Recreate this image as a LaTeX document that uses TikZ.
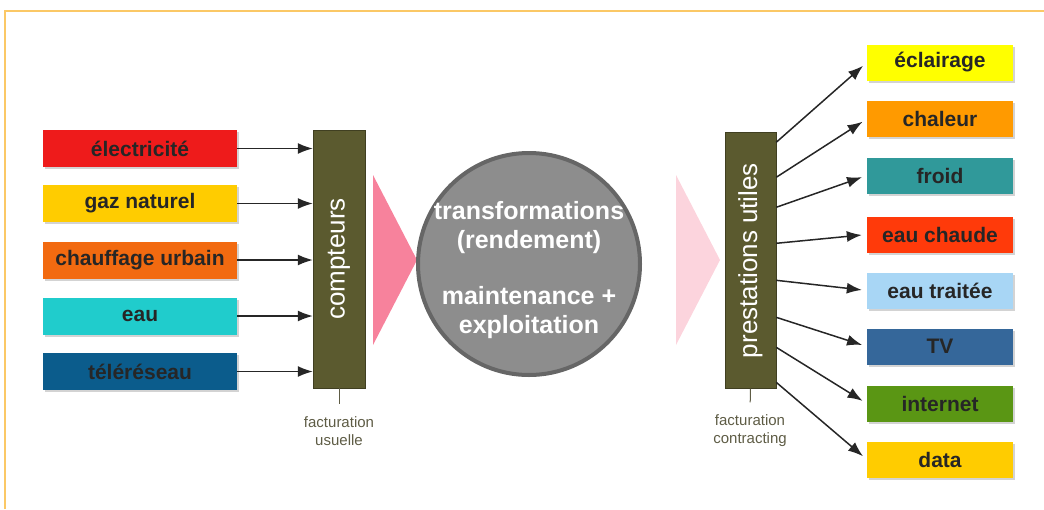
\documentclass[tikz,border=0pt]{standalone}
\usepackage{fontspec}
\setmainfont{Liberation Sans}
\usetikzlibrary{arrows.meta,shadows,calc}

\definecolor{framecol}{HTML}{FBC866}
\definecolor{olive}{HTML}{5B5A2F}
\definecolor{notecol}{HTML}{5E5C45}
\definecolor{pinkdark}{HTML}{F7829C}
\definecolor{pinklight}{HTML}{FCD4DD}
\definecolor{ballcol}{HTML}{8D8D8D}
\definecolor{ballrim}{HTML}{666666}
\definecolor{cElec}{HTML}{EE1B1B}
\definecolor{cGaz}{HTML}{FFCC00}
\definecolor{cChauf}{HTML}{F26A10}
\definecolor{cEau}{HTML}{20CCCC}
\definecolor{cTele}{HTML}{0B5C8C}
\definecolor{cEcl}{HTML}{FFFF00}
\definecolor{cChal}{HTML}{FF9A00}
\definecolor{cFroid}{HTML}{30999A}
\definecolor{cChaude}{HTML}{FF3A0A}
\definecolor{cTrait}{HTML}{A8D6F5}
\definecolor{cTV}{HTML}{35679A}
\definecolor{cNet}{HTML}{5A9614}
\definecolor{cData}{HTML}{FFCC00}

\tikzset{
	box node/.style = {
		rectangle,
		inner sep = 0pt,
		text = black!85,
		font = \fontsize{21}{25}\selectfont\bfseries,
		drop shadow = {opacity=0.35, shadow xshift=2pt, shadow yshift=-2pt}
	},
	src node/.style = {
		box node,
		minimum width = 194pt,
		minimum height = 37pt
	},
	use node/.style = {
		box node,
		minimum width = 146pt,
		minimum height = 36pt
	},
	meter node/.style = {
		rectangle,
		fill = olive,
		draw = olive!70!black,
		inner sep = 0pt,
		text = white,
		font = \fontsize{26}{30}\selectfont
	},
	note node/.style = {
		align = center,
		text = notecol,
		font = \fontsize{15}{18}\selectfont
	},
	flow/.style = {
		draw = black!85,
		line width = 1.5pt,
		-{Latex[length=15pt,width=11pt]}
	}
}

\begin{document}
\begin{tikzpicture}[x=1pt,y=-1pt]
	\useasboundingbox (0,0) rectangle (1044,509);
	\draw[framecol, line width=1.2pt] (5,509) -- (5,11) -- (1044,11);

	% sources
	\node at (140,148.5) [src node, fill=cElec]  (elec)  {électricité};
	\node at (140,203.5) [src node, fill=cGaz]   (gaz)   {gaz naturel};
	\node at (140,260)   [src node, fill=cChauf] (chauf) {chauffage urbain};
	\node at (140,316)   [src node, fill=cEau]   (eau)   {eau};
	\node at (140,371.5) [src node, fill=cTele]  (tele)  {téléréseau};

	\node at (339,259) [meter node, minimum width=52pt, minimum height=258pt] (cpt) {};
	\node at (cpt.center) [rotate=90, text=white, font=\fontsize{26}{30}\selectfont] (cpttxt) {compteurs};

	\foreach \s in {elec,gaz,chauf,eau,tele}
		\draw[flow] (\s.east) -- (cpt.west |- \s.east);

	\node at (339,431) [note node] (fu) {facturation\\usuelle};
	\draw[notecol, line width=1pt, shorten >=9pt] (cpt.south) -- (fu.north);

	% triangles
	\fill[pinkdark]  (373,175) -- (417,260) -- (373,345) -- cycle;
	\fill[pinklight] (676,175) -- (720,260) -- (676,345) -- cycle;

	% ball
	\node at (529,264) [circle, minimum size=222pt, fill=ballcol, draw=ballrim, line width=4pt] (ball) {};
	\node at (529,270) [align=center, text=white, font=\fontsize{25}{29}\selectfont\bfseries] (balltxt)
		{transformations\\(rendement)\\[27pt]maintenance +\\exploitation};

	% services
	\node at (750.5,260.5) [meter node, minimum width=51pt, minimum height=256pt] (pu) {};
	\node at (pu.center) [rotate=90, text=white, font=\fontsize{26}{30}\selectfont] (putxt) {prestations utiles};

	\node at (940,62.5)  [use node, fill=cEcl]    (ecl)    {éclairage};
	\node at (940,119)   [use node, fill=cChal]   (chal)   {chaleur};
	\node at (940,175.5) [use node, fill=cFroid]  (froid)  {froid};
	\node at (940,234.5) [use node, fill=cChaude] (chaude) {eau chaude};
	\node at (940,290.5) [use node, fill=cTrait]  (trait)  {eau traitée};
	\node at (940,346.5) [use node, fill=cTV]     (tv)     {TV};
	\node at (940,403.5) [use node, fill=cNet]    (net)    {internet};
	\node at (940,459.5) [use node, fill=cData]   (data)   {data};

	\foreach \t/\dy in {ecl/10,chal/45,froid/75,chaude/111,trait/148,tv/185,net/215,data/250}
		\draw[flow, shorten >=5pt] ($(pu.north east)+(0,\dy)$) -- (\t.west);

	\node at (750,431) [note node] (fc) {facturation\\contracting};
	\draw[notecol, line width=1pt, shorten >=9pt] (pu.south) -- (fc.north);
\end{tikzpicture}
\end{document}
